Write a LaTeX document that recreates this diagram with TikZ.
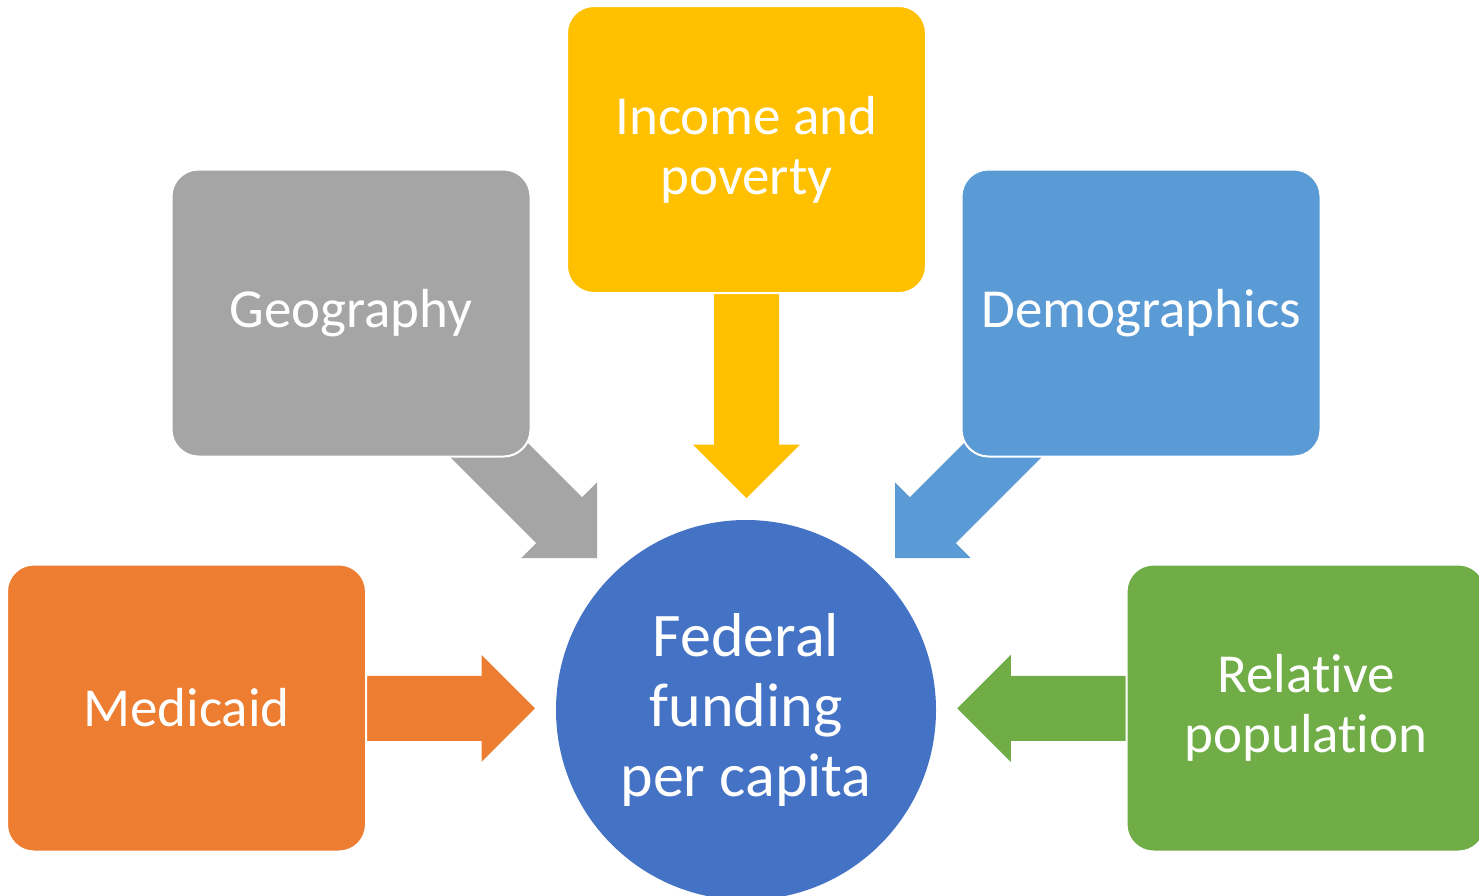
\documentclass[tikz,border=0pt]{standalone}
\usepackage{fontspec}
\setmainfont{Carlito}[Ligatures=NoCommon]
\definecolor{cyellow}{HTML}{FFC000}
\definecolor{cgray}{HTML}{A5A5A5}
\definecolor{clblue}{HTML}{5B9BD5}
\definecolor{corange}{HTML}{ED7D31}
\definecolor{cgreen}{HTML}{70AD47}
\definecolor{cdblue}{HTML}{4472C4}
% block arrow: colour, tip coordinate, angle, length
\newcommand\myblockarrow[4]{%
  \fill[#1, shift={(#2)}, rotate=#3] (0,0) -- (-53.5,53.5) -- (-53.5,32.5) -- (-#4,32.5)
    -- (-#4,-32.5) -- (-53.5,-32.5) -- (-53.5,-53.5) -- cycle;}
\begin{document}
\begin{tikzpicture}[x=1pt,y=-1pt,
  box/.style={draw=white, line width=2pt, rounded corners=27pt,
    minimum width=359pt, minimum height=287pt, inner sep=0pt,
    text=white, align=center, font=\fontsize{55}{60}\selectfont},
  hub/.style={circle, fill=cdblue, minimum size=380pt, inner sep=0pt,
    text=white, align=center, font=\fontsize{62}{70}\selectfont}]
\clip (0,0) rectangle (1479,895);
\fill[white] (0,0) rectangle (1479,895);
% arrow tips
\coordinate (tipY) at (746.5,498);
\coordinate (tipG) at (597,558);
\coordinate (tipB) at (895,558);
\coordinate (tipO) at (535,708.3);
\coordinate (tipR) at (957.3,708.3);
% arrows
\myblockarrow{cyellow}{tipY}{-90}{206}
\myblockarrow{cgray}{tipG}{-45}{200}
\myblockarrow{clblue}{tipB}{-135}{200}
\myblockarrow{corange}{tipO}{0}{170}
\myblockarrow{cgreen}{tipR}{180}{170}
% boxes
\node[box, fill=cyellow] (income) at (746.5,149.5) {Income and\\poverty};
\node[box, fill=cgray] (geo) at (351,313) {Geography};
\node[box, fill=clblue] (demo) at (1141,313) {Demographics};
\node[box, fill=corange] (medicaid) at (186.5,708) {Medicaid};
\node[box, fill=cgreen] (relpop) at (1306,708) {Relative\\population};
% hub
\node[hub] (hubc) at (746,710) {Federal\\funding\\per capita};
\end{tikzpicture}
\end{document}
